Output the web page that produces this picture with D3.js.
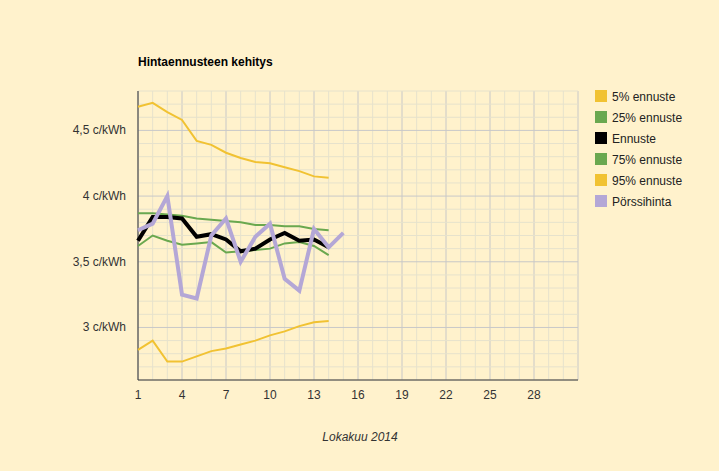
<!DOCTYPE html><html><head><meta charset="utf-8"><script src="https://cdn.jsdelivr.net/npm/d3@7"></script>
<style>body{margin:0;background:#fff2cc}text{font-family:Arial,"Liberation Sans",sans-serif}</style></head><body><svg id="c" width="719" height="471"></svg><script>
const days=d3.range(1,15);
const p95=[4.68,4.71,4.64,4.58,4.42,4.39,4.33,4.29,4.26,4.25,4.22,4.19,4.15,4.14];
const p5=[2.83,2.90,2.74,2.74,2.78,2.82,2.84,2.87,2.90,2.94,2.97,3.01,3.04,3.05];
const p75=[3.87,3.87,3.86,3.85,3.83,3.82,3.81,3.80,3.78,3.78,3.77,3.77,3.75,3.74];
const p25=[3.62,3.70,3.66,3.63,3.64,3.65,3.57,3.58,3.59,3.60,3.64,3.65,3.62,3.55];
const ennuste=[3.66,3.84,3.84,3.83,3.69,3.71,3.67,3.58,3.60,3.67,3.72,3.66,3.67,3.61];
const porssi=[3.74,3.79,4.00,3.25,3.22,3.70,3.83,3.50,3.69,3.79,3.37,3.28,3.75,3.61,3.72];
const xTicks=[1,4,7,10,13,16,19,22,25,28];
const yTicks=[3,3.5,4,4.5];
const legend=[["5% ennuste","#f1c232"],["25% ennuste","#6aa84f"],["Ennuste","#000"],["75% ennuste","#6aa84f"],["95% ennuste","#f1c232"],["Pörssihinta","#b4a7d6"]];
const svg=d3.select("#c");
svg.append("rect").attr("width",719).attr("height",471).attr("fill","#fff2cc");
const x=d3.scaleLinear().domain([1,31]).range([138,578]);
const y=d3.scaleLinear().domain([2.6,4.8]).range([380,91]);
const g=svg.append("g");
d3.range(1,32).forEach(d=>g.append("line").attr("x1",x(d)).attr("x2",x(d)).attr("y1",y(4.8)).attr("y2",y(2.6)).attr("stroke",(d-1)%3==0?"#c8c8c8":"#e6e2cc").attr("stroke-width",1));
d3.range(26,49).forEach(i=>{const v=i/10;g.append("line").attr("x1",x(1)).attr("x2",x(31)).attr("y1",y(v)).attr("y2",y(v)).attr("stroke",i%5==0?"#c8c8c8":"#e6e2cc");});
svg.append("line").attr("x1",x(1)).attr("x2",x(1)).attr("y1",y(4.8)).attr("y2",y(2.6)).attr("stroke","#333");
svg.append("line").attr("x1",x(1)).attr("x2",x(31)).attr("y1",y(2.6)).attr("y2",y(2.6)).attr("stroke","#333");
xTicks.forEach(t=>svg.append("text").attr("x",x(t)).attr("y",399).attr("text-anchor","middle").attr("font-size",12).attr("fill","#333").text(t));
yTicks.forEach(t=>svg.append("text").attr("x",126).attr("y",y(t)+4).attr("text-anchor","end").attr("font-size",12).attr("fill","#333").text(String(t).replace(".",",")+" c/kWh"));
const line=d3.line().x((d,i)=>x(i+1)).y(d=>y(d));
[[p95,"#f1c232",2],[p5,"#f1c232",2],[p75,"#6aa84f",2],[p25,"#6aa84f",2],[ennuste,"#000",4],[porssi,"#b4a7d6",4]].forEach(([d,c,w])=>svg.append("path").attr("d",line(d)).attr("fill","none").attr("stroke",c).attr("stroke-width",w));
svg.append("text").attr("x",138).attr("y",66).attr("font-weight","bold").attr("font-size",12).text("Hintaennusteen kehitys");
svg.append("text").attr("x",360).attr("y",441).attr("text-anchor","middle").attr("font-style","italic").attr("font-size",12).attr("fill","#333").text("Lokakuu 2014");
legend.forEach(([l,c],i)=>{svg.append("rect").attr("x",595).attr("y",90+i*21).attr("width",12).attr("height",12).attr("fill",c);svg.append("text").attr("x",612).attr("y",101+i*21).attr("font-size",12).attr("fill","#222").text(l);});
</script></body></html>
